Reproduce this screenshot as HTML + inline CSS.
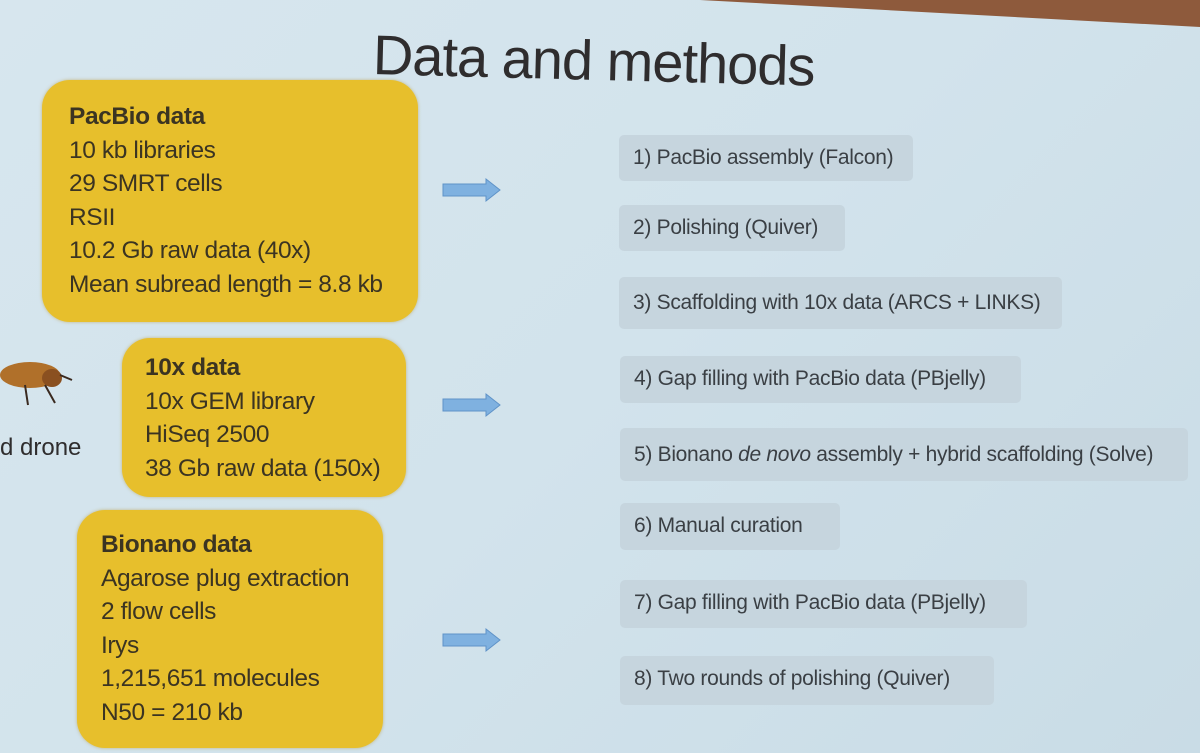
<!DOCTYPE html>
<html><head><meta charset="utf-8"><style>
body{margin:0;width:1200px;height:753px;overflow:hidden;background:linear-gradient(135deg,#d7e6ee 0%,#d2e3ec 50%,#c9dce6 100%);font-family:"Liberation Sans",sans-serif;position:relative;color:#3a3530}
.y{position:absolute;background:#e7bf2c;border-radius:28px;box-shadow:0 0 3px rgba(180,140,20,.5)}
.y div{font-size:24.5px;line-height:33.5px;color:#3b3422;letter-spacing:-0.4px;white-space:nowrap}
.y b{font-weight:bold}
.g{position:absolute;background:#c6d5de;border-radius:5px;font-size:21px;color:#3a3f44;line-height:46px;padding-left:14px;box-sizing:border-box;letter-spacing:-0.3px;white-space:nowrap}
.t{position:absolute;left:373px;top:22px;font-size:56px;color:#2f2d2e;letter-spacing:-1px;transform:rotate(1.5deg);transform-origin:left center;white-space:nowrap}
</style></head><body>
<svg width="1200" height="753" style="position:absolute;left:0;top:0">
<polygon points="700,0 1200,0 1200,27" fill="#8e5a3c"/>
<g fill="#7fb1e0" stroke="#5f93c8" stroke-width="1">
<polygon points="443,184 486,184 486,179 500,190 486,201 486,196 443,196"/>
<polygon points="443,399 486,399 486,394 500,405 486,416 486,411 443,411"/>
<polygon points="443,634 486,634 486,629 500,640 486,651 486,646 443,646"/>
</g>
<ellipse cx="30" cy="375" rx="30" ry="13" fill="#b0702a"/>
<ellipse cx="52" cy="378" rx="10" ry="9" fill="#8a5020"/>
<path d="M25 385 L28 405 M45 385 L55 403 M60 375 L72 380" stroke="#3a2a20" stroke-width="2" fill="none"/>
</svg>
<div class="t">Data and methods</div>
<div class="y" style="left:42px;top:80px;width:376px;height:242px"><div style="position:absolute;left:27px;top:20px"><b>PacBio data</b><br>10 kb libraries<br>29 SMRT cells<br>RSII<br>10.2 Gb raw data (40x)<br>Mean subread length = 8.8 kb</div></div>
<div class="y" style="left:122px;top:338px;width:284px;height:159px"><div style="position:absolute;left:23px;top:13px"><b>10x data</b><br>10x GEM library<br>HiSeq 2500<br>38 Gb raw data (150x)</div></div>
<div class="y" style="left:77px;top:510px;width:306px;height:238px"><div style="position:absolute;left:24px;top:18px"><b>Bionano data</b><br>Agarose plug extraction<br>2 flow cells<br>Irys<br>1,215,651 molecules<br>N50 = 210 kb</div></div>
<div style="position:absolute;left:0;top:434px;font-size:24px;color:#2f2d2e">d drone</div>
<div class="g" style="left:619px;top:135px;width:294px;height:46px">1) PacBio assembly (Falcon)</div>
<div class="g" style="left:619px;top:205px;width:226px;height:46px">2) Polishing (Quiver)</div>
<div class="g" style="left:619px;top:277px;width:443px;height:52px;line-height:52px">3) Scaffolding with 10x data (ARCS + LINKS)</div>
<div class="g" style="left:620px;top:356px;width:401px;height:47px">4) Gap filling with PacBio data (PBjelly)</div>
<div class="g" style="left:620px;top:428px;width:568px;height:53px;line-height:53px">5) Bionano <i>de novo</i> assembly + hybrid scaffolding (Solve)</div>
<div class="g" style="left:620px;top:503px;width:220px;height:47px">6) Manual curation</div>
<div class="g" style="left:620px;top:580px;width:407px;height:48px">7) Gap filling with PacBio data (PBjelly)</div>
<div class="g" style="left:620px;top:656px;width:374px;height:49px">8) Two rounds of polishing (Quiver)</div>
</body></html>
